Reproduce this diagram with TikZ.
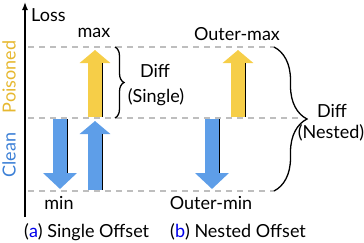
\documentclass[tikz,border=0pt]{standalone}
\usepackage{xcolor}
\usepackage{fontspec}
\setmainfont{Lato}
\usepackage{tikz}
\usetikzlibrary{arrows.meta,positioning,decorations.pathreplacing}
\definecolor{cleanblue}{RGB}{94,158,232}
\definecolor{cleantext}{RGB}{60,128,214}
\definecolor{poisyellow}{RGB}{246,206,72}
\definecolor{poistext}{RGB}{230,184,48}
\definecolor{capblue}{RGB}{0,0,235}
\definecolor{gridgray}{RGB}{190,190,190}

\begin{document}
\begin{tikzpicture}[
  x=1pt,y=-1pt,
  font=\fontsize{18}{21}\selectfont,
  lab/.style={inner sep=0pt},
  axis/.style={black,line width=1.4pt,-{Latex[length=8pt,width=6pt]}},
  lvl/.style={gridgray,line width=2pt,dash pattern=on 6pt off 5pt},
  upar/.style={line width=14pt,-{Triangle[length=13pt,width=30pt]}},
  dnar/.style={line width=15pt,-{Triangle[length=16pt,width=33pt]}},
  edge/.style={black,line width=0.8pt},
  brc/.style={black,line width=1.3pt,decorate,decoration={brace,amplitude=#1}}]

\useasboundingbox (0,0) rectangle (364,242);

% ================= levels =================
\coordinate (top0) at (28,47);    \coordinate (top1) at (274,47);
\coordinate (mid0) at (28,118);   \coordinate (mid1) at (300,118);
\coordinate (bot0) at (28,191);   \coordinate (bot1) at (274,191);
\draw[lvl] (top0) -- (top1);
\draw[lvl] (mid0) -- (mid1);
\draw[lvl] (bot0) -- (bot1);

% axis
\coordinate (ax0) at (25,217); \coordinate (ax1) at (25,2);
\draw[axis] (ax0) -- (ax1);
\node[lab,anchor=west] (loss) at (31,15) {Loss};
\node[lab,rotate=90,text=poistext] (pois) at (9,77) {Poisoned};
\node[lab,rotate=90,text=cleantext] (clean) at (9,155) {Clean};

% ================= (a) single offset =================
\draw[dnar,cleanblue] (60,119) -- (60,189);
\draw[edge] (67.5,119) -- (67.5,173);
\draw[upar,cleanblue] (95,190) -- (95,121);
\draw[edge] (102,190) -- (102,134);
\draw[upar,poisyellow] (95,117) -- (95,50);
\draw[edge] (102,117) -- (102,63);
\node[lab] (max) at (94,33) {max};
\node[lab] (min) at (59,203) {min};
% single brace
\coordinate (sb0) at (115,47); \coordinate (sb1) at (115,118);
\draw[brc=9pt] (sb0) -- (sb1);
\node[lab] (sdiff) at (155,71) {Diff};
\node[lab] (ssing) at (156,97) {(Single)};

% ================= (b) nested offset =================
\draw[dnar,cleanblue] (212,119) -- (212,189);
\draw[edge] (219.5,119) -- (219.5,173);
\draw[upar,poisyellow] (238,117) -- (238,50);
\draw[edge] (245,117) -- (245,63);
\node[lab] (omax) at (237,34) {Outer-max};
\node[lab] (omin) at (211,203) {Outer-min};
% nested brace
\draw[brc=33pt] (top1) -- (bot1);
\node[lab] (ndiff) at (332,111) {Diff};
\node[lab] (nnest) at (331,133) {(Nested)};

% captions
\node[lab,anchor=west] (capa) at (24,232) {(\textcolor{capblue}{a}) Single Offset};
\node[lab,anchor=west] (capb) at (170,232) {(\textcolor{capblue}{b}) Nested Offset};
\end{tikzpicture}
\end{document}
